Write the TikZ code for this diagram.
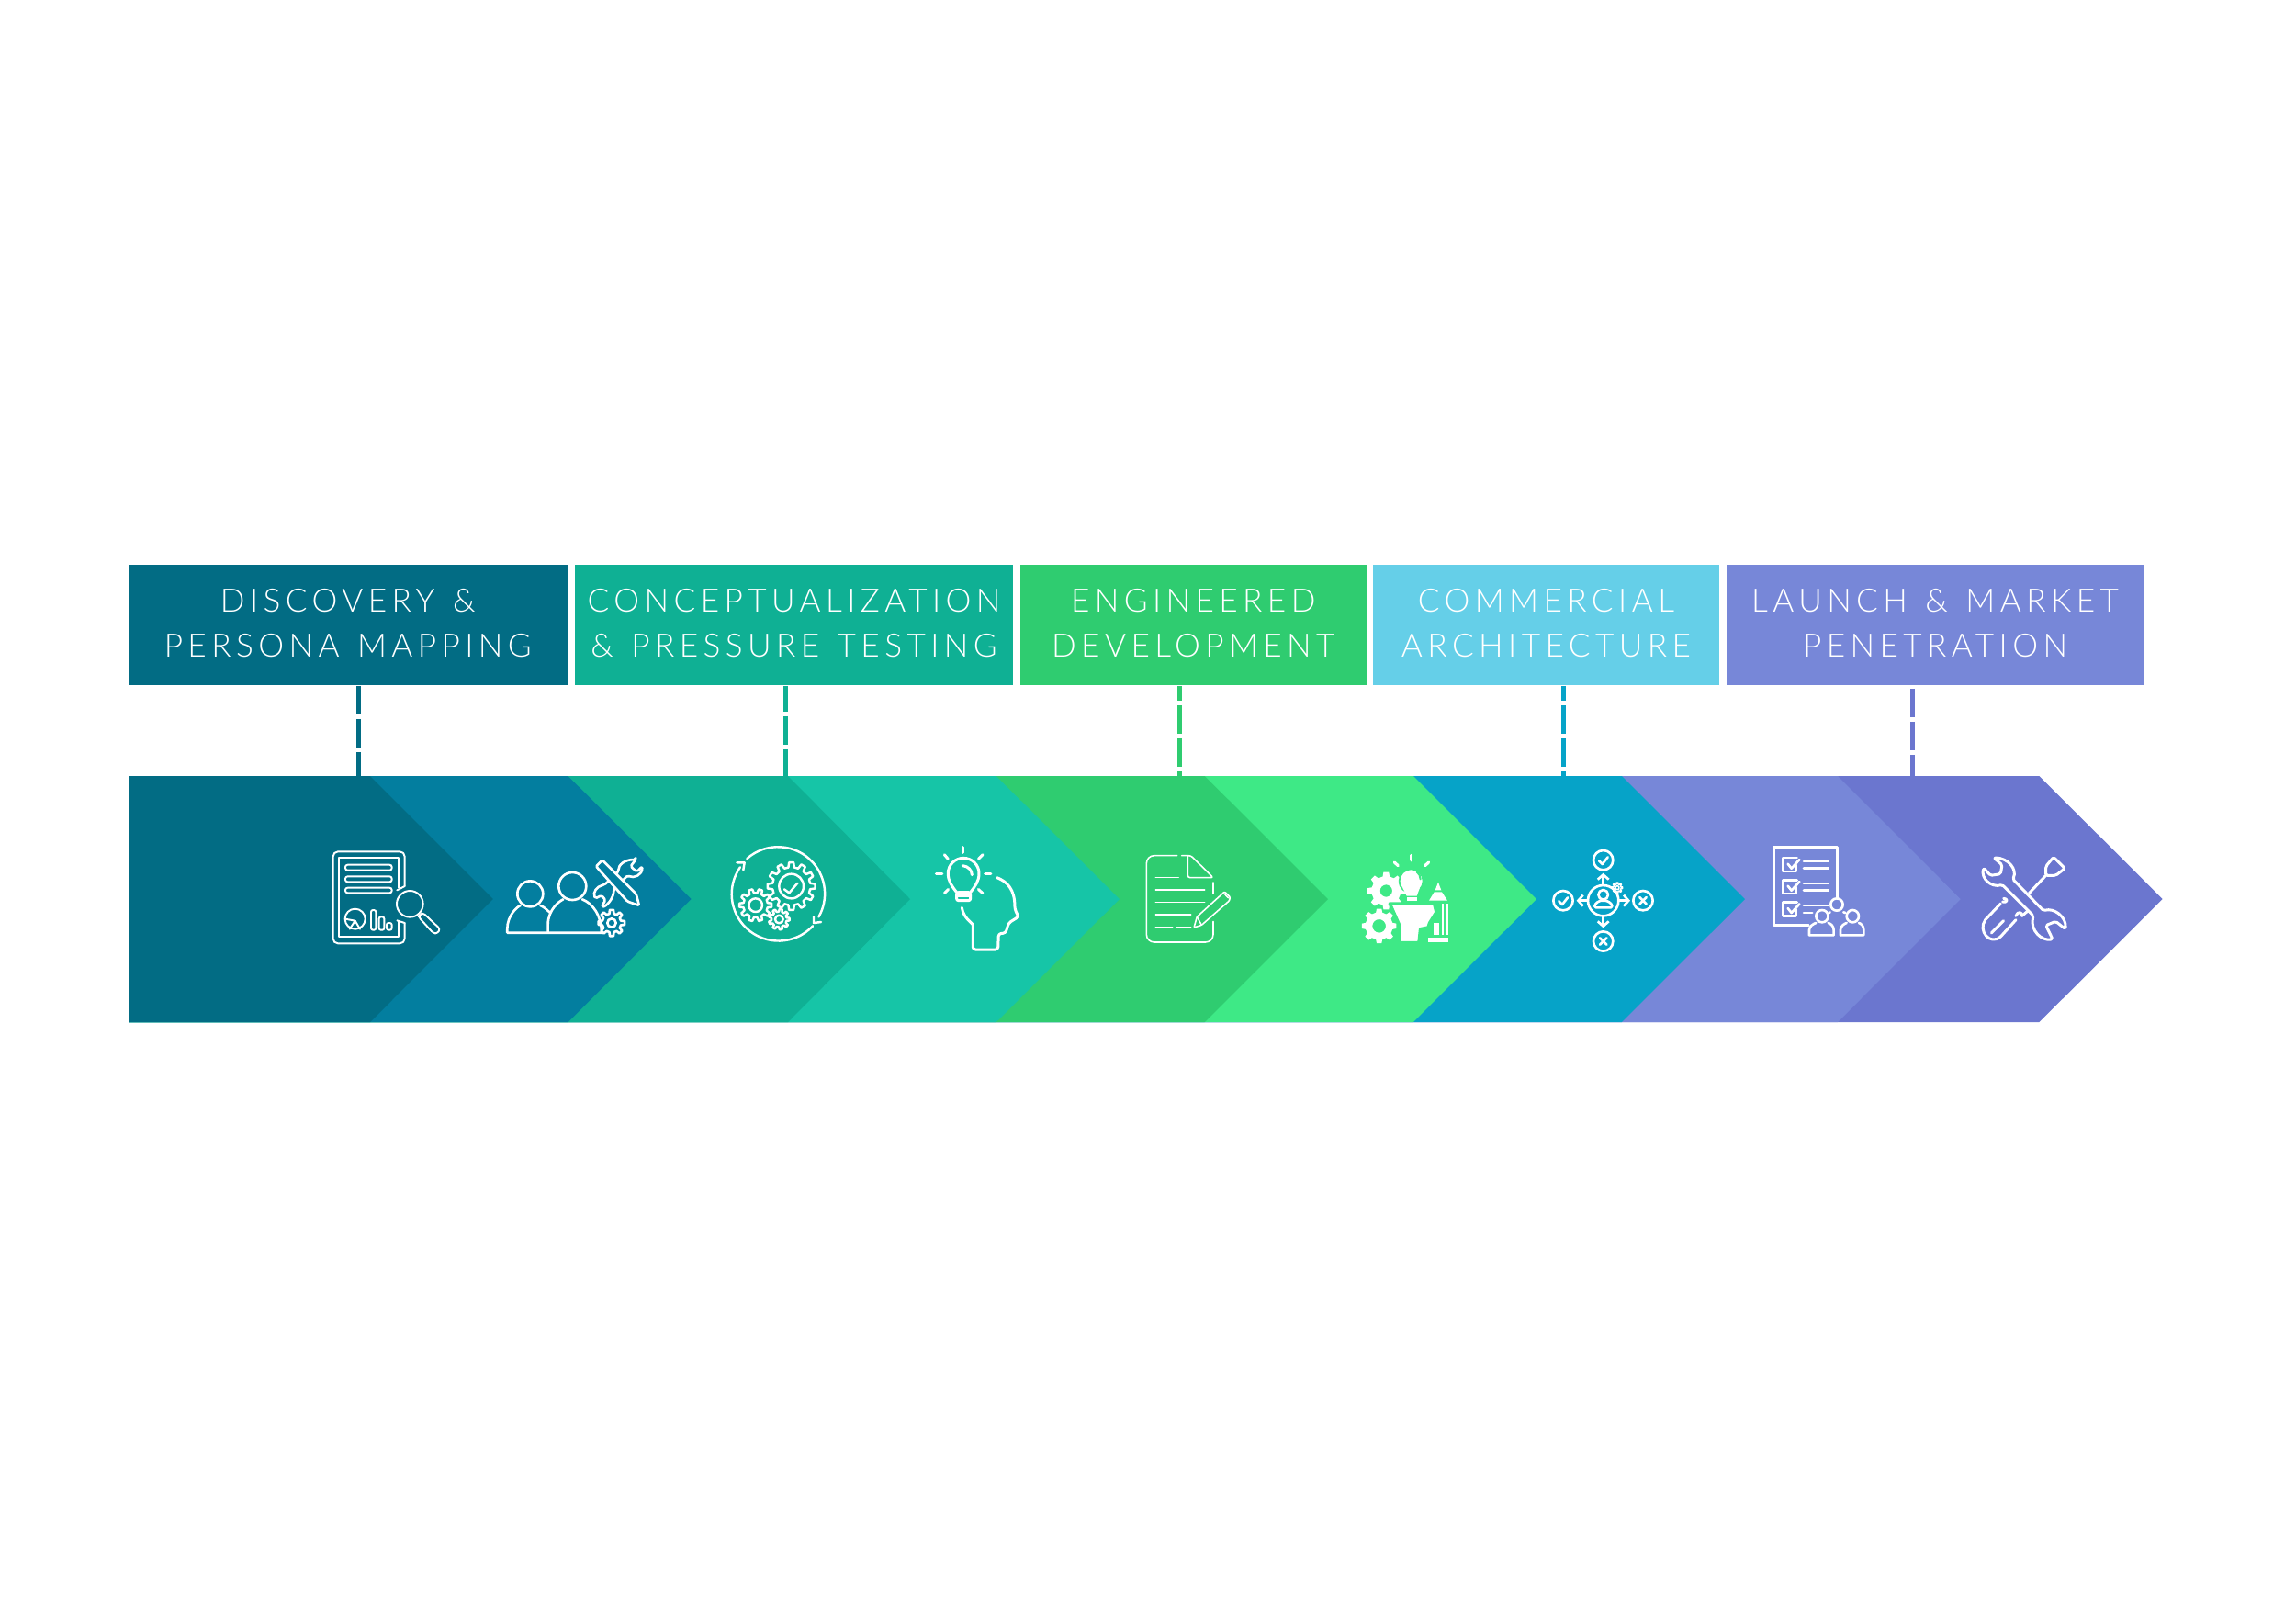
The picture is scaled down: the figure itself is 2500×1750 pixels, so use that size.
\documentclass[tikz,border=0pt]{standalone}
\usepackage{fontspec}
\usepackage{amsmath}
\usetikzlibrary{arrows.meta,calc}
\newfontfamily\tabfont[LetterSpace=15.4,WordSpace=1.3]{Lato Light}

\definecolor{chevA}{HTML}{026C84}
\definecolor{chevB}{HTML}{037E9F}
\definecolor{chevC}{HTML}{0FB094}
\definecolor{chevD}{HTML}{16C5A7}
\definecolor{chevE}{HTML}{2FCC70}
\definecolor{chevF}{HTML}{3EE986}
\definecolor{chevG}{HTML}{06A3C8}
\definecolor{chevH}{HTML}{7787D8}
\definecolor{chevI}{HTML}{6B76CF}
\definecolor{tabD}{HTML}{65CFE8}

\tikzset{
  tabbox/.style={minimum height=1.31cm,inner sep=0pt,text=white,align=center,
    font=\tabfont\fontsize{10}{13.9}\selectfont,
    execute at end node={\rule[-0.035cm]{0pt}{0pt}}},
  stem/.style={line width=0.05cm,dash pattern=on 0.31cm off 0.05cm},
  icon/.style={white,line width=#1,line join=round,line cap=round},
  tiny3x/.style={shift={(#1)},scale=0.3333},
  barb/.style={-{Straight Barb[length=1.5pt,width=3.4pt]}}
}

\newcommand{\gearwheel}[5]{
  (#1,#2) ++({-0.3*360/#5}:#3)
  \foreach \k in {0,...,\numexpr#5-1\relax} {
    -- ++(0,0) -- ($(#1,#2)+({(\k-.18)*360/#5}:#4)$) -- ($(#1,#2)+({(\k+.18)*360/#5}:#4)$)
    -- ($(#1,#2)+({(\k+.3)*360/#5}:#3)$) -- ($(#1,#2)+({(\k+.7)*360/#5}:#3)$)
  } -- cycle
}

\begin{document}
\begin{tikzpicture}[x=0.01cm,y=-0.01cm]
\useasboundingbox (0,0) rectangle (2500,1750);

\fill[chevI] (140,845) -- (2220.4,845) -- (2354.6,979) -- (2220.4,1113) -- (140,1113) -- cycle;
\fill[chevH] (140,845) -- (2001,845) -- (2134.7,979) -- (2001,1113) -- (140,1113) -- cycle;
\fill[chevG] (140,845) -- (1765.8,845) -- (1900,979) -- (1765.8,1113) -- (140,1113) -- cycle;
\fill[chevF] (140,845) -- (1538.8,845) -- (1673,979) -- (1538.8,1113) -- (140,1113) -- cycle;
\fill[chevE] (140,845) -- (1311.7,845) -- (1446,979) -- (1311.7,1113) -- (140,1113) -- cycle;
\fill[chevD] (140,845) -- (1084.7,845) -- (1219,979) -- (1084.7,1113) -- (140,1113) -- cycle;
\fill[chevC] (140,845) -- (858,845) -- (991,979) -- (858,1113) -- (140,1113) -- cycle;
\fill[chevB] (140,845) -- (618.5,845) -- (752.7,979) -- (618.5,1113) -- (140,1113) -- cycle;
\fill[chevA] (140,845) -- (403,845) -- (536.8,979) -- (403,1113) -- (140,1113) -- cycle;

\node (tab1) [tabbox,fill=chevA,minimum width=4.775cm] at (378.75,680.5) {DISCOVERY \&\\PERSONA MAPPING};
\node (tab2) [tabbox,fill=chevC,minimum width=4.77cm] at (864.5,680.5) {CONCEPTUALIZATION\\\& PRESSURE TESTING};
\node (tab3) [tabbox,fill=chevE,minimum width=3.77cm] at (1299.25,680.5) {ENGINEERED\\DEVELOPMENT};
\node (tab4) [tabbox,fill=tabD,minimum width=3.76cm] at (1683.4,680.5) {COMMERCIAL\\ARCHITECTURE};
\node (tab5) [tabbox,fill=chevH,minimum width=4.54cm] at (2107,680.5) {LAUNCH \& MARKET\\PENETRATION};

\coordinate (foot1) at (390.4,845);
\coordinate (foot2) at (855.7,845);
\coordinate (foot3) at (1284.2,845);
\coordinate (foot4) at (1702.5,845);
\coordinate (foot5) at (2082.7,845);

\draw[stem,chevA] (tab1.south -| foot1) -- (foot1);
\draw[stem,chevC,dash phase=0.03cm] (tab2.south -| foot2) -- (foot2);
\draw[stem,chevE,dash phase=0.145cm] (tab3.south -| foot3) -- (foot3);
\draw[stem,chevG,dash phase=0.145cm] (tab4.south -| foot4) -- (foot4);
\draw[stem,chevI,dash phase=0.33cm] (tab5.south -| foot5) -- (foot5);

% report
\begin{scope}[tiny3x={340,910},icon=0.55pt]
\draw[rounded corners=1.5pt] (302,165) -- (302,52) -- (68,52) -- (68,352) -- (302,352) -- (302,285);
\draw (302,165) -- (277,178);
\draw (302,285) -- (277,277);
\draw (282,170) -- (282,73) -- (88,73) -- (88,330) -- (282,330) -- (282,280);
\draw[rounded corners=0.7pt] (108,95) rectangle (260,113);
\draw[rounded corners=0.7pt] (108,133) rectangle (260,151);
\draw[rounded corners=0.7pt] (108,170) rectangle (260,187);
\draw (140,272) circle (33);
\draw (108,272) -- (140,278) -- (122,305);
\draw (140,278) -- (156,305);
\draw[rounded corners=0.6pt] (192,308) rectangle (208,243);
\draw[rounded corners=0.6pt] (218,308) rectangle (235,265);
\draw[rounded corners=0.6pt] (243,308) rectangle (260,285);
\draw (319,223) circle (43);
\draw[rounded corners=0.8pt] (352,258) -- (362,252) -- (418,305) -- (408,320) -- (395,318) -- (347,265) -- cycle;
\end{scope}

% team and tools
\begin{scope}[tiny3x={340,910},icon=0.75pt]
\draw (712,190) circle (42);
\draw (850,165) circle (45);
\draw (770,317) -- (637,317) -- (637,305) .. controls (637,260) and (670,232) .. (680,228);
\draw (745,228) .. controls (755,232) and (765,240) .. (775,250);
\draw (770,317) -- (770,290) .. controls (770,240) and (810,212) .. (820,208);
\draw (882,208) .. controls (915,220) and (945,260) .. (945,317) -- (770,317);
\draw \gearwheel{978}{285}{31}{43}{8};
\draw (978,285) circle (14);
\draw[rounded corners=0.5pt] (1057,78) -- (1040,100) -- (1060,118) -- (1078,100) .. controls (1078,130) and (1050,140) .. (1030,130) -- (985,175) .. controls (985,205) and (960,232) .. (945,232) -- (958,210) -- (945,195) -- (925,205) .. controls (915,185) and (930,165) .. (955,160) -- (1000,118) .. controls (1000,95) and (1020,78) .. (1057,78) -- cycle;
\draw[fill=chevB,rounded corners=0.4pt] (927,100) -- (948,80) -- (1058,190) -- (1068,228) -- (1030,215) -- cycle;
\end{scope}

% gears in a loop
\begin{scope}[tiny3x={780,910},icon=0.7pt]
\draw (100,75) arc[start angle=228.5,end angle=389.7,radius=153];
\draw (315,295) arc[start angle=43,end angle=215,radius=153];
\draw (67,88) -- (92,88) -- (88,112);
\draw (318,265) -- (318,285) -- (342,282);
\draw \gearwheel{245}{165}{62}{78}{12};
\draw (245,165) circle (40);
\draw (222,175) -- (238,187) -- (265,155);
\draw \gearwheel{128}{227}{40}{53}{10};
\draw (128,227) circle (22);
\draw \gearwheel{205}{273}{25}{34}{9};
\draw (205,273) circle (13);
\end{scope}

% head with bulb
\begin{scope}[tiny3x={780,910},icon=0.85pt]
\draw (785,185) .. controls (770,165) and (757,150) .. (757,123) .. controls (757,95) and (780,73) .. (807,73) .. controls (835,73) and (858,95) .. (858,123) .. controls (858,150) and (845,165) .. (830,185);
\draw[rounded corners=0.6pt] (785,185) -- (785,212) -- (830,212) -- (830,185) -- cycle;
\draw (785,195) -- (830,195);
\draw (807,38) -- (807,55);
\draw (745,62) -- (757,76);
\draw (870,62) -- (856,76);
\draw (718,125) -- (738,125);
\draw (878,125) -- (897,125);
\draw (745,188) -- (758,175);
\draw (870,188) -- (856,175);
\draw (805,98) .. controls (822,100) and (835,112) .. (835,128);
\draw[rounded corners=0.8pt] (917,137) .. controls (950,150) and (975,175) .. (975,240) -- (987,265) -- (955,285) -- (945,318) -- (922,320) -- (920,372) -- (838,372) -- (838,290);
\draw (838,290) .. controls (815,270) and (805,255) .. (802,235);
\end{scope}

% written page
\begin{scope}[tiny3x={1240,910},icon=0.45pt]
\draw[rounded corners=2.4pt] (125,65) -- (25,65) -- (25,348) -- (243,348) -- (243,280);
\draw[rounded corners=0.7pt] (140,65) -- (170,65) -- (243,137) -- (160,137) -- (160,65);
\draw (243,153) -- (243,190);
\draw (55,137) -- (130,137);
\draw (55,177) -- (215,177);
\draw (55,218) -- (215,218);
\draw (55,258) -- (170,258);
\draw (55,298) -- (110,298);
\draw (122,298) -- (170,298);
\draw[rounded corners=0.3pt] (180,300) -- (190,265) -- (280,183) -- (298,200) -- (296,212) -- (205,292) -- cycle;
\draw (280,190) -- (292,203);
\draw (190,265) -- (205,292);
\end{scope}

% head with tools, solid
\begin{scope}[tiny3x={1240,910},icon=0.6pt]
\fill[white,even odd rule] \gearwheel{808}{180}{48}{62}{8} (808,180) circle (20);
\fill[white,even odd rule] \gearwheel{785}{295}{45}{57}{8} (785,295) circle (22);
\fill[white,draw=chevF,line width=0.5pt] (890,148) circle (39);
\fill[white] (862,170) -- (918,170) -- (908,197) -- (875,197) -- cycle;
\fill[white] (875,202) rectangle (908,212);
\draw[chevF,line width=0.6pt] (908,118) .. controls (916,124) and (920,132) .. (920,142);
\draw[line width=0.9pt] (835,87) -- (847,98);
\draw[line width=0.9pt] (890,64) -- (890,80);
\draw[line width=0.9pt] (947,87) -- (935,98);
\fill[white,draw=chevF,line width=1pt] (820,222) -- (965,222) -- (972,250) -- (950,285) -- (945,300) -- (920,305) -- (915,350) -- (850,350) -- (850,290) -- cycle;
\fill[white] (978,152) -- (988,178) -- (968,178) -- cycle;
\fill[white] (965,184) -- (990,184) -- (1008,212) -- (948,212) -- cycle;
\fill[white] (990,222) rectangle (1010,325);
\draw[chevF,line width=0.4pt] (999,222) -- (999,325);
\fill[white] (962,285) rectangle (980,325);
\fill[white] (945,332) rectangle (1010,348);
\end{scope}

% decision hub
\begin{scope}[tiny3x={1690,910},icon=0.75pt]
\draw (167,212) circle (50);
\draw (167,193) circle (16);
\draw[rounded corners=0.5pt] (138,235) .. controls (140,220) and (155,212) .. (167,212) .. controls (180,212) and (195,220) .. (197,235) -- cycle;
\draw[line width=0.45pt] \gearwheel{213}{170}{12}{17}{8};
\draw[line width=0.45pt] (213,170) circle (6);
\draw (167,80) circle (32);
\draw (36,212) circle (32);
\draw (297,212) circle (32);
\draw (167,345) circle (32);
\draw (153,82) -- (164,93) -- (182,70);
\draw (22,214) -- (33,225) -- (51,202);
\draw (286,201) -- (308,223);
\draw (308,201) -- (286,223);
\draw (156,334) -- (178,356);
\draw (178,334) -- (156,356);
\draw[barb] (167,158) -- (167,122);
\draw[barb] (117,212) -- (80,212);
\draw[barb] (217,212) -- (255,212);
\draw[barb] (167,262) -- (167,301);
\end{scope}

% checklist team
\begin{scope}[tiny3x={1690,910},icon=0.75pt]
\draw (932,205) -- (932,38) -- (725,38) -- (725,292) -- (838,292);
\draw (797,95) -- (797,117) -- (755,117) -- (755,72) -- (800,72);
\draw (770,92) -- (782,107) -- (808,78);
\draw (797,167) -- (797,189) -- (755,189) -- (755,145) -- (800,145);
\draw (770,164) -- (782,179) -- (808,150);
\draw (797,240) -- (797,262) -- (755,262) -- (755,218) -- (800,218);
\draw (770,237) -- (782,252) -- (808,223);
\draw (822,84) -- (902,84);
\draw (822,107) -- (902,107);
\draw (822,156) -- (902,156);
\draw (822,179) -- (902,179);
\draw (822,228) -- (902,228);
\draw (822,252) -- (850,252);
\draw (930,225) circle (20);
\draw (882,263) circle (20);
\draw (982,263) circle (20);
\draw (908,250) -- (905,252);
\draw (952,250) -- (958,252);
\draw (840,325) -- (840,308) .. controls (840,295) and (855,287) .. (862,285);
\draw (902,285) .. controls (910,287) and (920,295) .. (920,308) -- (920,325) -- (840,325);
\draw (942,325) -- (942,308) .. controls (942,295) and (955,287) .. (962,285);
\draw (1002,285) .. controls (1010,287) and (1018,295) .. (1018,308) -- (1018,325) -- (942,325);
\end{scope}

% wrench and screwdriver
\begin{scope}[tiny3x={1930,910},icon=0.85pt]
\draw[rounded corners=0.5pt] (722,72) .. controls (770,72) and (800,110) .. (785,142) -- (885,245) .. controls (920,235) and (960,265) .. (957,305) -- (925,280) -- (893,293) -- (915,338) .. controls (880,345) and (840,310) .. (852,262) -- (750,160) .. controls (715,170) and (680,140) .. (690,105) -- (712,130) -- (745,125) -- (750,95) -- cycle;
\draw (838,188) -- (893,130);
\draw[rounded corners=0.5pt] (893,130) -- (893,100) -- (918,70) -- (955,107) -- (925,130) -- cycle;
\draw (745,222) -- (695,275) .. controls (670,310) and (710,360) .. (745,330) -- (795,275);
\draw (755,205) .. controls (770,205) and (768,220) .. (752,216);
\draw (795,262) .. controls (800,245) and (818,250) .. (815,262) -- (835,245);
\draw (715,318) -- (755,278);
\end{scope}

\end{tikzpicture}
\end{document}
